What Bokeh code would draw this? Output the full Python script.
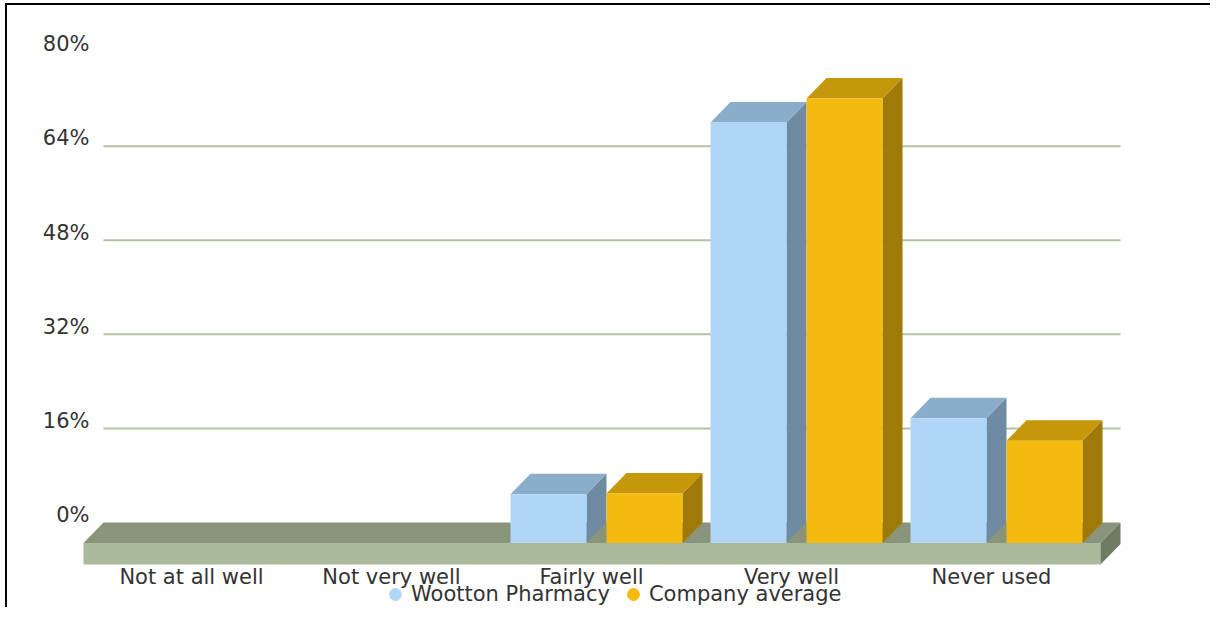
from bokeh.plotting import figure
from bokeh.models import Range1d, Legend, LegendItem, ColumnDataSource
from bokeh.core.properties import value
from bokeh.embed import file_html
from bokeh.resources import INLINE

# ---------------- data ----------------
categories = ["Not at all well", "Not very well", "Fairly well", "Very well", "Never used"]
series_names = ["Wootton Pharmacy", "Company average"]
wootton = [0, 0, 8.3, 71.5, 21.2]
company = [0, 0, 8.4, 75.6, 17.4]
y_ticks = [0, 16, 32, 48, 64, 80]

# ---------------- geometry / styling ----------------
W, H = 1210, 607
PX_X = 200.0                 # px per category
PX_Y = 5.88                  # px per percent
CX0 = 191.0                  # canvas x of first category centre
ZERO = 542.5                 # canvas y of front 0 %
x_start = -CX0 / PX_X
x_end = x_start + W / PX_X
y_end = ZERO / PX_Y
y_start = (ZERO - H) / PX_Y

DX = 20 / PX_X               # 3-D depth (x units)
DY = 20.5 / PX_Y             # 3-D depth (y units)
FLOOR_T = 21.5 / PX_Y        # floor thickness
FLOOR_L, FLOOR_R = -0.54, 0.545
BAR_W = 0.38
OFFSETS = [-0.405, 0.075]
YLAB_X = (89 - CX0) / PX_X
YLAB_UP = 7.7 / PX_Y         # label centre above its grid line
XLAB_Y = (ZERO - 576.5) / PX_Y

FONT = "DejaVu Sans"
FS = "21px"
TXT = "#333333"
series_colors = [
    ("#afd6f6", "#8aadc9", "#6f8ba2"),
    ("#f5ba0f", "#c6960b", "#a07a08"),
]
floor_colors = ("#abb99b", "#89947a", "#6f7b62")
grid_color = "#b3c39f"

p = figure(width=W, height=H, output_backend="svg", toolbar_location=None,
           x_range=Range1d(x_start, x_end), y_range=Range1d(y_start, y_end),
           x_axis_location=None, y_axis_location=None,
           min_border=0, min_border_left=0, min_border_right=0,
           min_border_top=0, min_border_bottom=0)
p.outline_line_color = None
p.xgrid.visible = False
p.ygrid.visible = False
p.background_fill_color = None
p.border_fill_color = None
p.styles = {
    "background-color": "white",
    "background-image": "linear-gradient(#000, #000), linear-gradient(#000, #000)",
    "background-size": "2px 100%, 100% 2px",
    "background-position": "5px 3px, 5px 3px",
    "background-repeat": "no-repeat",
}

n = len(categories)
fl, fr = FLOOR_L, n - 1 + FLOOR_R

# back-plane grid lines
gl = [v for v in y_ticks if 0 < v < y_ticks[-1]]
p.segment(x0=[fl + DX] * len(gl), x1=[fr + DX] * len(gl),
          y0=[v + DY for v in gl], y1=[v + DY for v in gl],
          line_color=grid_color, line_width=2)

# floor
p.quad(left=[fl], right=[fr], bottom=[-FLOOR_T], top=[0],
       fill_color=floor_colors[0], line_color=None)
p.patches(xs=[[fl, fr, fr + DX, fl + DX]], ys=[[0, 0, DY, DY]],
          fill_color=floor_colors[1], line_color=None)
p.patches(xs=[[fr, fr + DX, fr + DX, fr]], ys=[[-FLOOR_T, -FLOOR_T + DY, DY, 0]],
          fill_color=floor_colors[2], line_color=None)

# 3-D bars
leg_r = []
for vals, off, (cf, ct, cs) in zip([wootton, company], OFFSETS, series_colors):
    L, R, T = [], [], []
    for i, v in enumerate(vals):
        if v > 0:
            L.append(i + off); R.append(i + off + BAR_W); T.append(v)
    p.patches(xs=[[r, r + DX, r + DX, r] for r in R],
              ys=[[0, DY, t + DY, t] for t in T],
              fill_color=cs, line_color=None)
    p.patches(xs=[[l, r, r + DX, l + DX] for l, r in zip(L, R)],
              ys=[[t, t, t + DY, t + DY] for t in T],
              fill_color=ct, line_color=None)
    p.quad(left=L, right=R, bottom=[0] * len(T), top=T,
           fill_color=cf, line_color=None)
    # zero-size markers: only used to draw the round legend swatch
    leg_r.append(p.scatter(x=[(l + r) / 2 for l, r in zip(L, R)], y=T, size=0,
                           marker="circle", fill_color=cf, line_color=None))

# value-axis labels (sitting on the back-plane grid lines)
ysrc = ColumnDataSource(dict(x=[YLAB_X] * len(y_ticks),
                             y=[v + DY + YLAB_UP for v in y_ticks],
                             t=[f"{v}%" for v in y_ticks]))
p.text(x="x", y="y", text="t", source=ysrc, text_align="right",
       text_baseline="middle", text_font=value(FONT),
       text_font_size=FS, text_color=TXT)

# category labels
xsrc = ColumnDataSource(dict(x=list(range(n)), y=[XLAB_Y] * n, t=categories))
p.text(x="x", y="y", text="t", source=xsrc, text_align="center",
       text_baseline="middle", text_font=value(FONT),
       text_font_size=FS, text_color=TXT)

# legend
legend = Legend(items=[LegendItem(label=nm, renderers=[r]) for nm, r in zip(series_names, leg_r)],
                location=(379, -3), orientation="horizontal",
                glyph_width=32, glyph_height=32, label_standoff=0, spacing=7,
                padding=0, margin=0, background_fill_alpha=0, border_line_color=None,
                label_text_font=FONT, label_text_font_size=FS, label_text_color=TXT)
p.add_layout(legend)

open("out.html", "w").write(file_html(p, INLINE))
